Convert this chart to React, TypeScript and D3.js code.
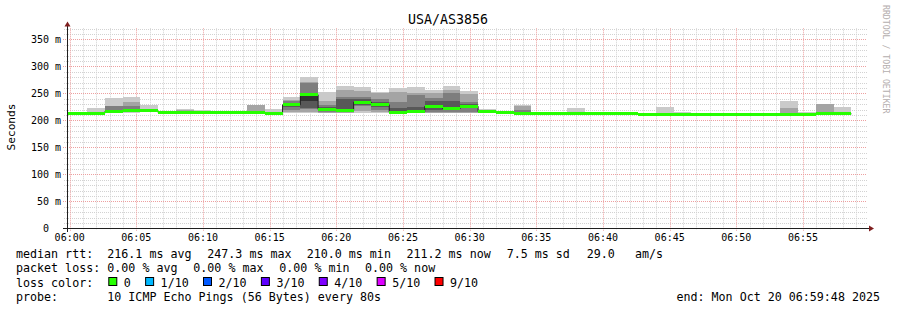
import React from 'react';
import * as d3 from 'd3';

// ---------- data ----------
const START = new Date(2025, 9, 20, 5, 59, 48);
const END = new Date(2025, 9, 20, 6, 59, 48);
const BAR_ORIGIN = new Date(2025, 9, 20, 5, 58, 38);
const STEP_SEC = 80;

const title = 'USA/AS3856';
const yLabel = 'Seconds';

// median rtt per 80 s step (ms)
const medianRtt = [
  213, 213, 213, 216, 217.5, 217.5, 214.5, 214.5, 214, 214,
  214, 214, 213, 228.7, 247.3, 220, 218, 233.5, 228.7, 215,
  216, 226, 222, 226, 216, 214, 213, 213, 212.6, 212.6,
  212.6, 212.6, 212.6, 210.4, 210.4, 210.4, 210.4, 210.4, 210.4, 210.4,
  210.2, 210.2, 210.2, 212, 212,
];

// sorted 10 pings per step (ms)
const pings: number[][] = [
  [212, 212.5, 212.5, 213, 213, 213, 213.5, 213.5, 214, 214],
  [212, 212.5, 212.5, 213, 213, 213, 213.5, 213.5, 214, 214],
  [212, 212.5, 212.5, 213, 213, 213, 213.5, 214, 215.5, 223],
  [213, 214, 215, 216, 216, 216.5, 218, 226, 227, 242],
  [214, 215, 216, 217, 217.5, 218, 220, 226, 233, 244],
  [215, 216, 216.5, 217, 217.5, 218, 219, 220, 221, 229],
  [213, 213.5, 214, 214, 214.5, 214.5, 215, 215, 215.5, 216],
  [213, 213.5, 214, 214, 214.5, 215, 215.5, 216, 219, 221.5],
  [213, 213, 213.5, 214, 214, 214, 214.5, 215, 216, 219],
  [213, 213, 213.5, 213.5, 214, 214, 214.5, 214.5, 215, 215],
  [213, 213, 213.5, 213.5, 214, 214, 214.5, 214.5, 215, 215],
  [213, 213.5, 214, 214, 214, 214.5, 215, 218, 227.5, 229],
  [212, 212.5, 213, 213, 213, 213.5, 214, 214.5, 216, 221],
  [213, 216, 220, 225, 228, 229.5, 232, 235, 237, 243.7],
  [213, 216, 221, 222, 235, 248, 250, 270, 271.5, 280],
  [213, 214, 216, 218, 219.5, 221, 224, 228, 235, 253],
  [213, 214, 215, 217, 217.5, 218.5, 240, 244, 256, 264],
  [213, 218, 226, 229, 232, 235, 240, 244, 255, 261.6],
  [213, 215, 219, 224, 228, 229.5, 234, 240, 250, 253],
  [213, 213.5, 214, 214.5, 215, 216, 222, 233, 252, 259],
  [213, 214, 215, 215.5, 216, 217, 225, 247, 250, 261],
  [213, 214, 216, 220, 225, 227, 235, 242, 250, 257],
  [213, 214, 215, 219, 221.5, 223, 235, 250, 257, 263.5],
  [213, 214, 216, 222, 225.5, 227, 230, 234, 248.7, 254],
  [214, 214.5, 215, 215.5, 216, 216.5, 217, 217.5, 218, 221],
  [213, 213, 213.5, 213.5, 214, 214, 214.5, 214.5, 215, 215],
  [212, 212.5, 213, 213, 213, 213.5, 214, 219, 227, 229],
  [212, 212.5, 212.5, 213, 213, 213, 213.5, 213.5, 214, 214],
  [211.5, 212, 212, 212.5, 212.5, 212.5, 213, 213, 213.5, 214],
  [211.5, 212, 212, 212.5, 212.5, 212.5, 213, 213.5, 214, 222.8],
  [211.5, 212, 212, 212.5, 212.5, 212.5, 213, 213, 213.5, 214],
  [211.5, 212, 212, 212.5, 212.5, 212.5, 213, 213, 213.5, 214],
  [211.5, 212, 212, 212.5, 212.5, 212.5, 213, 213, 213.5, 214],
  [209.5, 210, 210, 210.5, 210.5, 210.5, 210.5, 211, 211, 211.5],
  [209.5, 210, 210, 210.5, 210.5, 210.5, 211, 212, 214, 225],
  [209.5, 210, 210, 210.5, 210.5, 210.5, 211, 211.5, 212, 215],
  [209.5, 210, 210, 210, 210.5, 210.5, 210.5, 211, 211.5, 213],
  [209.5, 210, 210, 210.5, 210.5, 210.5, 210.5, 211, 211, 211.5],
  [209.5, 210, 210, 210.5, 210.5, 210.5, 210.5, 211, 211, 211.5],
  [209.5, 210, 210, 210.5, 210.5, 210.5, 210.5, 211, 212, 214],
  [209.5, 210, 210, 210.5, 210.5, 210.5, 210.5, 211, 211, 211.5],
  [209.5, 210, 210, 210.5, 210.5, 210.5, 211, 212, 222.8, 235.7],
  [209.5, 210, 210, 210, 210.5, 210.5, 211, 211.5, 212, 216],
  [210, 211, 211.5, 212, 212, 212, 212.5, 213, 229.5, 230],
  [210, 211, 211.5, 212, 212, 212, 212.5, 213, 215, 225],
];

const yTicks = [0, 50, 100, 150, 200, 250, 300, 350];
const smokeShades = ['#cacaca', '#a4a4a4', '#7e7e7e', '#585858', '#323232'];

const lossLabels = ['0', '1/10', '2/10', '3/10', '4/10', '5/10', '9/10'];
const lossColors = ['#26ff00', '#00b8ff', '#0059ff', '#5e00ff', '#7e00ff', '#dd00ff', '#ff0000'];

const rttRow = [
  { t: 'median rtt:', x: 16 },
  { t: '216.1 ms avg', x: 107.3 },
  { t: '247.3 ms max', x: 207.3 },
  { t: '210.0 ms min', x: 306.7 },
  { t: '211.2 ms now', x: 406.5 },
  { t: '7.5 ms sd', x: 506.7 },
  { t: '29.0', x: 586.7 },
  { t: 'am/s', x: 635 },
];
const lossRow = [
  { t: 'packet loss:', x: 16 },
  { t: '0.00 % avg', x: 107.3 },
  { t: '0.00 % max', x: 193.3 },
  { t: '0.00 % min', x: 279.3 },
  { t: '0.00 % now', x: 365 },
];
const probeText = '10 ICMP Echo Pings (56 Bytes) every 80s';
const endText = 'end: Mon Oct 20 06:59:48 2025';
const watermark = 'RRDTOOL / TOBI OETIKER';

// ---------- layout ----------
const W = 897;
const H = 310;
const X0 = 67;
const X1 = 867;
const YB = 228.3;
const YT = 28.3;
const MONO = '"DejaVu Sans Mono", monospace';
const CW = 7.02;

export default function App() {
  const x = d3.scaleTime().domain([START, END]).range([X0, X1]);
  const y = d3.scaleLinear().domain([0, 370.4]).range([YB, YT]);

  const barStart = (i: number) => new Date(BAR_ORIGIN.getTime() + i * STEP_SEC * 1000);
  const barEnd = (i: number) => new Date(BAR_ORIGIN.getTime() + (i + 1) * STEP_SEC * 1000);

  const minuteTicks = d3.timeMinute.range(new Date(2025, 9, 20, 6, 0, 0), END);
  const fmt = d3.timeFormat('%H:%M');
  const gridVals = d3.range(10, 371, 10);

  const medianPts: [number, number][] = medianRtt.map((m, i) => [Math.max(X0, x(barStart(i))), y(m)]);
  medianPts.push([x(barEnd(medianRtt.length - 1)), y(medianRtt[medianRtt.length - 1])]);
  const stepLine = d3.line().curve(d3.curveStepAfter)(medianPts) || '';

  // loss legend positions
  let lx = 108.3;
  const lossItems = lossLabels.map((l, i) => {
    const item = { l, c: lossColors[i], x: lx };
    lx = lx + 15 + l.length * CW + 14.8;
    return item;
  });

  return (
    <svg width={W} height={H} style={{ position: 'absolute', left: 0, top: 0, background: '#fff' }}
      fontFamily={MONO}>
      <rect x={0} y={0} width={W} height={H} fill="#fff" />
      {/* minor grid */}
      {gridVals.filter((v) => v % 50 !== 0).map((v) => (
        <line key={'hg' + v} x1={64} x2={X1} y1={Math.round(y(v)) + 0.5} y2={Math.round(y(v)) + 0.5}
          stroke="#d2d2d2" strokeDasharray="1,1" />
      ))}
      {minuteTicks.filter((t) => t.getMinutes() % 5 !== 0).map((t) => (
        <line key={'vg' + t.getTime()} x1={Math.round(x(t)) + 0.5} x2={Math.round(x(t)) + 0.5} y1={YT} y2={230}
          stroke="#d2d2d2" strokeDasharray="1,1" />
      ))}
      {/* major grid */}
      {yTicks.filter((v) => v > 0).map((v) => (
        <line key={'mh' + v} x1={63} x2={X1} y1={Math.round(y(v)) + 0.5} y2={Math.round(y(v)) + 0.5}
          stroke="#eda0a0" strokeDasharray="1,1" />
      ))}
      {minuteTicks.filter((t) => t.getMinutes() % 5 === 0).map((t) => (
        <line key={'mv' + t.getTime()} x1={Math.round(x(t)) + 0.5} x2={Math.round(x(t)) + 0.5} y1={YT} y2={231}
          stroke="#eda0a0" strokeDasharray="1,1" />
      ))}

      {/* smoke */}
      {smokeShades.map((col, L) => (
        <g key={'smoke' + L}>
          {pings.map((p, i) => {
            const xa = Math.max(X0, x(barStart(i)));
            const xb = x(barEnd(i));
            const top = y(p[9 - L]);
            const bot = y(p[L]);
            return <rect key={i} x={xa} y={top} width={xb - xa} height={Math.max(0, bot - top)} fill={col}
              shapeRendering="crispEdges" />;
          })}
        </g>
      ))}

      {/* median line */}
      <path d={stepLine} fill="none" stroke="#202020" strokeWidth={1} />
      {medianRtt.map((m, i) => {
        const xa = Math.max(X0, x(barStart(i)));
        const xb = x(barEnd(i));
        return <rect key={'med' + i} x={xa} y={y(m) - 1.5} width={xb - xa} height={3} fill={lossColors[0]}
          shapeRendering="crispEdges" />;
      })}

      {/* axes */}
      <line x1={63} x2={870} y1={228.5} y2={228.5} stroke="#1f1f1f" />
      <path d="M869,225.5 L874,228.5 L869,231.5 Z" fill="#7f1f1f" />
      <line x1={67.5} x2={67.5} y1={232} y2={25} stroke="#1f1f1f" />
      <path d="M64.5,26.5 L67.5,21.5 L70.5,26.5 Z" fill="#7f1f1f" />

      {/* ticks labels */}
      {yTicks.map((v) => (
        <text key={'yl' + v} x={v === 0 ? 49 : 61} y={y(v) + 3.5} fontSize={10} textAnchor="end" fill="#000">
          {v === 0 ? '0' : `${v} m`}
        </text>
      ))}
      {minuteTicks.filter((t) => t.getMinutes() % 5 === 0).map((t) => (
        <text key={'xl' + t.getTime()} x={x(t)} y={241} fontSize={10} textAnchor="middle" fill="#000">
          {fmt(t)}
        </text>
      ))}

      {/* titles */}
      <text x={448} y={24} fontSize={13.3} textAnchor="middle" fill="#000">{title}</text>
      <text transform={`translate(15,127) rotate(-90)`} fontSize={11.2} textAnchor="middle" fill="#000">{yLabel}</text>
      <text transform={`translate(883,5) rotate(90)`} fontSize={8.2} fill="#b4aeae">{watermark}</text>

      {/* legend */}
      <g fontSize={11.66} fill="#000" style={{ whiteSpace: 'pre' }}>
        {rttRow.map((s) => <text key={s.t} x={s.x} y={258}>{s.t}</text>)}
        {lossRow.map((s) => <text key={s.t} x={s.x} y={272.3}>{s.t}</text>)}
        <text x={16} y={286.6}>loss color:</text>
        {lossItems.map((it) => (
          <g key={it.l}>
            <rect x={it.x + 0.5} y={277.5} width={8} height={8} fill={it.c} stroke="#000" strokeWidth={1} />
            <text x={it.x + 15.5} y={286.6}>{it.l}</text>
          </g>
        ))}
        <text x={16} y={300.9}>probe:</text>
        <text x={107.3} y={300.9}>{probeText}</text>
        <text x={880} y={300.9} textAnchor="end">{endText}</text>
      </g>
    </svg>
  );
}
